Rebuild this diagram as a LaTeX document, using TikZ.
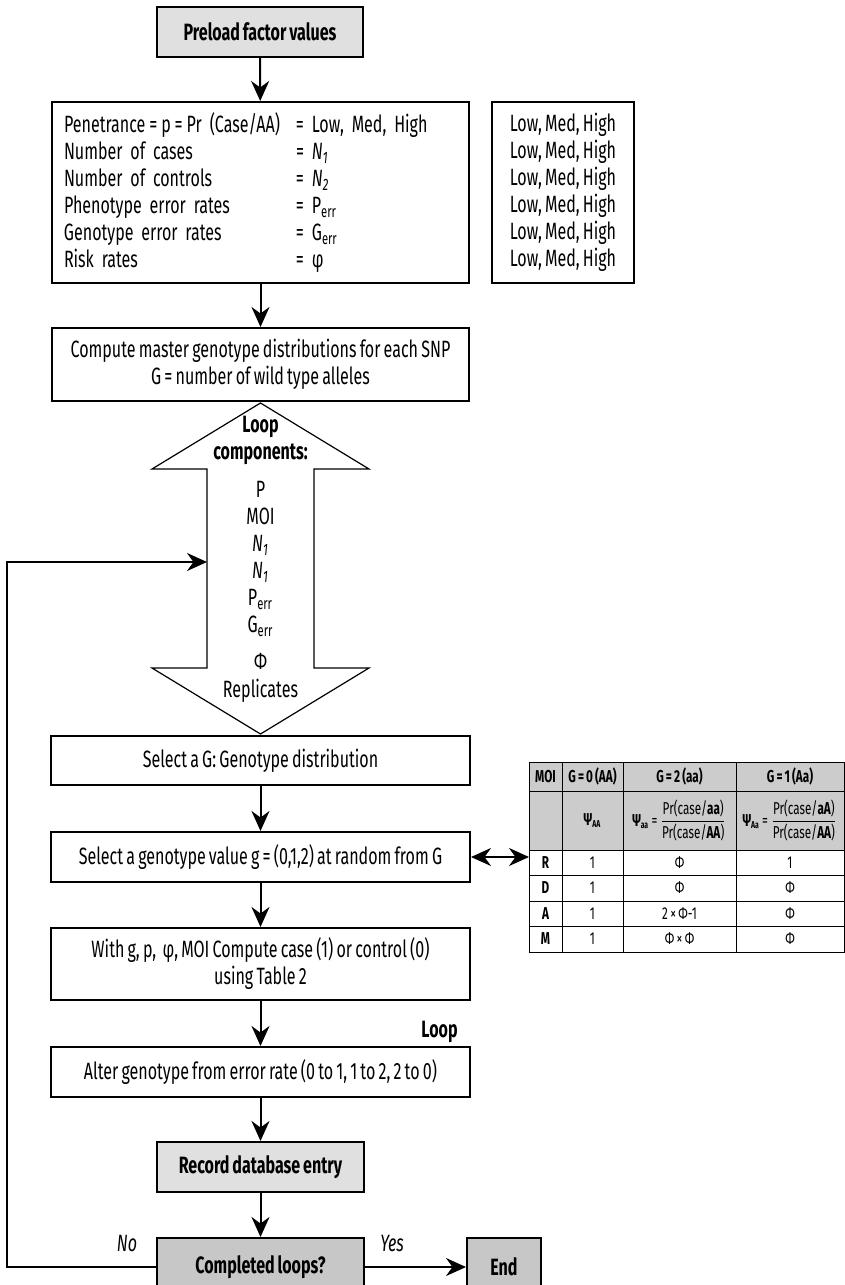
\documentclass[tikz,border=0pt]{standalone}
\usepackage{amsmath}
\usepackage{fontspec}
\setmainfont{Fira Sans}[FakeStretch=0.68, WordSpace=0.75]
\usetikzlibrary{arrows.meta}
\definecolor{lightbox}{gray}{0.88}
\definecolor{darkbox}{gray}{0.78}
\definecolor{tablehead}{gray}{0.80}
\newcommand{\bodyfont}{\fontsize{11.8}{13.5}\selectfont}
\newcommand{\cellfont}{\fontsize{8.6}{10}\selectfont}
\newcommand{\lvl}[1]{\makebox[116pt][l]{#1}}
\newcommand{\psifrac}[2]{\textbf{Ψ\textsubscript{\tiny #1}} = \ensuremath{\dfrac{\text{Pr(case/\textbf{#2})}}{\text{Pr(case/\textbf{AA})}}}}

\begin{document}
\begin{tikzpicture}[
    >={Stealth[length=10pt, width=9pt]},
    x=0.5pt, y=-0.5pt,
    font=\bodyfont,
    box/.style={draw, line width=1pt, inner sep=0pt, align=center},
    flow/.style={->, line width=1pt},
    cell/.style={inner sep=0pt, font=\cellfont}
]

\useasboundingbox (0,0) rectangle (845,1285);

% ---------------- FACTORS ----------------

\node[
    box,
    fill=lightbox,
    font=\bodyfont\bfseries,
    minimum width=103pt,
    minimum height=25pt
] (preload) at (260,32) {Preload factor values};

\node[
    box,
    align=left,
    text width=196.5pt,
    minimum width=208.5pt,
    minimum height=90.5pt
] (factors) at (260.5,192.5) {
    \lvl{Penetrance\,=\,p\,=\,Pr (Case/AA)}= Low, Med, High\\
    \lvl{Number of cases}= \textit{N\textsubscript{1}}\\
    \lvl{Number of controls}= \textit{N\textsubscript{2}}\\
    \lvl{Phenotype error rates}= P\textsubscript{err}\\
    \lvl{Genotype error rates}= G\textsubscript{err}\\
    \lvl{Risk rates}= φ};

\node[
    box,
    minimum width=71pt,
    minimum height=90.5pt
] (levels) at (563,192.5) {
    Low, Med, High\\Low, Med, High\\Low, Med, High\\
    Low, Med, High\\Low, Med, High\\Low, Med, High};

\node[
    box,
    minimum width=208.5pt,
    minimum height=36.5pt
] (master) at (260.5,364.5)
    {Compute master genotype distributions for each SNP\\
     G = number of wild type alleles};


% ---------------- LOOP ARROW ----------------

\draw[line width=0.6pt]
    (260.5,403) -- (369,469) -- (314,469) -- (314,668) -- (369,668)
    -- (260.5,734) -- (152,668) -- (207,668) -- (207,469) -- (152,469) -- cycle;

\coordinate (loopin) at (207,562);

\node[font=\bodyfont\bfseries, align=center, inner sep=0pt]
    (comphead) at (260.5,440) {Loop\\components:};

\node[align=center, inner sep=0pt] (complist) at (260.5,559)
    {P\\MOI\\\textit{N\textsubscript{1}}\\\textit{N\textsubscript{1}}\\
     P\textsubscript{err}\\G\textsubscript{err}};

\node[align=center, inner sep=0pt, font=\fontsize{11.8}{14}\selectfont]
    (compend) at (260.5,678) {Φ\\Replicates};


% ---------------- SIMULATION STEPS ----------------

\node[
    box,
    minimum width=209.5pt,
    minimum height=24.5pt
] (selG) at (260.5,760.5) {Select a G: Genotype distribution};

\node[
    box,
    minimum width=209.5pt,
    minimum height=25pt
] (selg) at (260.5,857) {Select a genotype value g = (0,1,2) at random from G};

\node[
    box,
    minimum width=209.5pt,
    minimum height=36pt
] (compute) at (260.5,964)
    {With g, p,\ \ φ, MOI Compute case (1) or control (0)\\using Table 2};

\node[
    box,
    minimum width=209.5pt,
    minimum height=25pt
] (alter) at (260.5,1072) {Alter genotype from error rate (0 to 1, 1 to 2, 2 to 0)};

\node[font=\bodyfont\bfseries, anchor=east, inner sep=0pt]
    (looplabel) at (458,1032) {Loop};

\node[
    box,
    fill=lightbox,
    font=\bodyfont\bfseries,
    minimum width=103.5pt,
    minimum height=25pt
] (record) at (260.5,1167) {Record database entry};

\node[
    box,
    fill=darkbox,
    font=\bodyfont\bfseries,
    minimum width=103.5pt,
    minimum height=29pt
] (done) at (260.5,1267) {Completed loops?};

\node[
    box,
    fill=darkbox,
    font=\bodyfont\bfseries,
    minimum width=37pt,
    minimum height=29pt
] (endbox) at (504,1267) {End};


% ---------------- CONNECTORS ----------------

\draw[flow] (preload) -- (factors);
\draw[flow] (factors) -- (master);
\draw[flow] (selG) -- (selg);
\draw[flow] (selg) -- (compute);
\draw[flow] (compute) -- (alter);
\draw[flow] (alter) -- (record);
\draw[flow] (record) -- (done);
\draw[flow] (done) -- (endbox);

\draw[flow] (done.west) -- ++(-149,0) |- (loopin);

\node[font=\bodyfont\itshape, anchor=south] (nolabel) at (127,1259) {No};
\node[font=\bodyfont\itshape, anchor=south] (yeslabel) at (392,1259) {Yes};


% ---------------- TABLE ----------------

\coordinate (tbl) at (529,857);
\draw[<->, line width=1pt] (selg.east) -- (tbl);

\fill[tablehead] (529,762) rectangle (844,850);
\draw[line width=0.5pt] (529,762) rectangle (844,952);
\foreach \y in {791,850,875,901,926}
    \draw[line width=0.5pt] (529,\y) -- (844,\y);
\foreach \x in {562,623,736}
    \draw[line width=0.5pt] (\x,762) -- (\x,952);

\node[cell, font=\cellfont\bfseries] (hmoi) at (545.5,776.5) {MOI};
\node[cell, font=\cellfont\bfseries] (hAA) at (592.5,776.5) {G = 0 (AA)};
\node[cell, font=\cellfont\bfseries] (haa) at (679.5,776.5) {G = 2 (aa)};
\node[cell, font=\cellfont\bfseries] (hAa) at (790,776.5) {G = 1 (Aa)};

\node[cell] (psiAA) at (592.5,820.5) {\textbf{Ψ\textsubscript{\tiny AA}}};
\node[cell] (psiaa) at (679.5,820.5) {\psifrac{aa}{aa}};
\node[cell] (psiAa) at (790,820.5) {\psifrac{Aa}{aA}};

\foreach \m/\a/\b/\c [count=\i] in
    {R/1/Φ/1, D/1/Φ/Φ, A/1/{2 × Φ-1}/Φ, M/1/{Φ × Φ}/Φ} {
    \pgfmathsetmacro{\ry}{862.5+25.5*(\i-1)}
    \node[cell, font=\cellfont\bfseries] (moi\i) at (545.5,\ry) {\m};
    \node[cell] (gAA\i) at (592.5,\ry) {\a};
    \node[cell] (gaa\i) at (679.5,\ry) {\b};
    \node[cell] (gAa\i) at (790,\ry) {\c};
}

\end{tikzpicture}
\end{document}
